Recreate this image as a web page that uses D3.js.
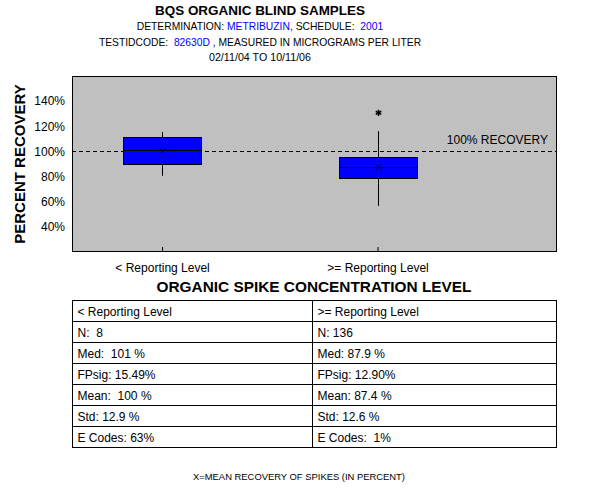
<!DOCTYPE html>
<html>
<head>
<meta charset="utf-8">
<script src="https://cdn.jsdelivr.net/npm/d3@7"></script>
<style>
  html, body { margin: 0; padding: 0; background: #fff; }
  svg text { font-family: "Liberation Sans", Arial, sans-serif; white-space: pre; }
</style>
</head>
<body>
<div id="chart"></div>
<script>
// ---- Data ----
const categories = ["< Reporting Level", ">= Reporting Level"];
const whiskerLow  = [80.6, 56.7];
const q1          = [90.1, 78.5];
const medians     = [101, 87.9];
const q3          = [111.1, 95.2];
const whiskerHigh = [115.4, 116.1];
const means       = [100, 87.4];
const outliers    = [[], [130.7]];
const yTicks      = [40, 60, 80, 100, 120, 140];
const yDomain     = [20, 160];

const nValues     = ["N:  8", "N: 136"];
const medText     = ["Med:  101 %", "Med: 87.9 %"];
const fpsigText   = ["FPsig: 15.49%", "FPsig: 12.90%"];
const meanText    = ["Mean:  100 %", "Mean: 87.4 %"];
const stdText     = ["Std: 12.9 %", "Std: 12.6 %"];
const eCodesText  = ["E Codes: 63%", "E Codes:  1%"];

// ---- Layout ----
const W = 600, H = 500;
const plot = { left: 72, right: 557, top: 76, bottom: 252 };
const svg = d3.select("#chart").append("svg").attr("width", W).attr("height", H);
const px = v => Math.round(v) + 0.5;

// Titles
const cx = 260;
svg.append("text").attr("x", cx).attr("y", 15).attr("text-anchor", "middle")
  .attr("font-size", 13).attr("font-weight", "bold")
  .attr("textLength", 210).attr("lengthAdjust", "spacingAndGlyphs")
  .text("BQS ORGANIC BLIND SAMPLES");
const t2 = svg.append("text").attr("x", cx).attr("y", 30).attr("text-anchor", "middle").attr("font-size", 10.3);
t2.append("tspan").text("DETERMINATION: ");
t2.append("tspan").attr("fill", "#0000ff").text("METRIBUZIN,");
t2.append("tspan").text(" SCHEDULE:  ");
t2.append("tspan").attr("fill", "#0000ff").text("2001");
const t3 = svg.append("text").attr("x", cx).attr("y", 46).attr("text-anchor", "middle").attr("font-size", 10.3);
t3.append("tspan").text("TESTIDCODE:  ");
t3.append("tspan").attr("fill", "#0000ff").text("82630D");
t3.append("tspan").text(" , MEASURED IN MICROGRAMS PER LITER");
svg.append("text").attr("x", cx).attr("y", 61).attr("text-anchor", "middle").attr("font-size", 10.7)
  .text("02/11/04 TO 10/11/06");

// Scales
const y = d3.scaleLinear().domain(yDomain).range([plot.bottom, plot.top]);
const idx = categories.map((d, i) => i);
const x = d3.scaleLinear().domain([-0.418, 1.833]).range([plot.left, plot.right]);

// Plot background
svg.append("rect").attr("x", plot.left).attr("y", plot.top)
  .attr("width", plot.right - plot.left).attr("height", plot.bottom - plot.top)
  .attr("fill", "#c0c0c0").attr("stroke", "none");

// Y axis labels (no tick lines)
const yAxis = d3.axisLeft(y).tickValues(yTicks).tickSize(0).tickPadding(7).tickFormat(d => d + "%");
const yg = svg.append("g").attr("transform", `translate(${plot.left},0)`).call(yAxis);
yg.select(".domain").remove();
yg.selectAll("text").attr("font-size", 12).attr("font-family", "Liberation Sans, Arial, sans-serif").attr("fill", "#000");

// X axis: inward ticks + labels
const xAxis = d3.axisBottom(x).tickValues(idx).tickSize(-5).tickPadding(11).tickFormat(i => categories[i]);
const xg = svg.append("g").attr("transform", `translate(0,${plot.bottom})`).call(xAxis);
xg.select(".domain").remove();
xg.selectAll("line").attr("stroke", "#000");
xg.selectAll("text").attr("font-size", 12).attr("font-family", "Liberation Sans, Arial, sans-serif").attr("fill", "#000");

// 100% reference line
svg.append("line").attr("x1", plot.left).attr("x2", plot.right)
  .attr("y1", px(y(100))).attr("y2", px(y(100)))
  .attr("stroke", "#000").attr("stroke-dasharray", "4,3");
svg.append("text").attr("x", plot.right - 9).attr("y", y(100) - 7).attr("text-anchor", "end")
  .attr("font-size", 12).text("100% RECOVERY");

// Boxes
const boxW = 78;
const g = svg.append("g");
idx.forEach(i => {
  const xc = px(x(i));
  g.append("line").attr("x1", xc).attr("x2", xc)
    .attr("y1", y(whiskerLow[i])).attr("y2", y(whiskerHigh[i])).attr("stroke", "#000");
  const yt = px(y(q3[i])), yb = px(y(q1[i]));
  g.append("rect").attr("x", xc - boxW / 2).attr("y", yt)
    .attr("width", boxW).attr("height", yb - yt)
    .attr("fill", "#0000ff").attr("stroke", "#000");
  g.append("line").attr("x1", xc - boxW / 2).attr("x2", xc + boxW / 2)
    .attr("y1", px(y(medians[i]))).attr("y2", px(y(medians[i]))).attr("stroke", "#000");
  g.append("path").attr("d", d3.symbol(d3.symbolX, 22)())
    .attr("transform", `translate(${xc},${y(means[i])})`)
    .attr("fill", "none").attr("stroke", "#000");
  outliers[i].forEach(v => {
    g.append("path").attr("d", d3.symbol(d3.symbolAsterisk, 28)())
      .attr("transform", `translate(${xc},${y(v)})`)
      .attr("fill", "none").attr("stroke", "#000").attr("stroke-width", 1.5);
  });
});

// Plot border
svg.append("rect").attr("x", plot.left + 0.5).attr("y", plot.top + 0.5)
  .attr("width", plot.right - plot.left - 1).attr("height", plot.bottom - plot.top - 1)
  .attr("fill", "none").attr("stroke", "#000");

// Y axis title
svg.append("text").attr("transform", `translate(25,${(plot.top + plot.bottom) / 2}) rotate(-90)`)
  .attr("text-anchor", "middle").attr("font-size", 15).attr("font-weight", "bold")
  .text("PERCENT RECOVERY");

// Table title
svg.append("text").attr("x", 314).attr("y", 292).attr("text-anchor", "middle")
  .attr("font-size", 15).attr("font-weight", "bold")
  .attr("textLength", 315).attr("lengthAdjust", "spacingAndGlyphs")
  .text("ORGANIC SPIKE CONCENTRATION LEVEL");

// Table
const rows = [categories, nValues, medText, fpsigText, meanText, stdText, eCodesText];
const tbl = { left: 72.5, right: 556.5, top: 300.5, rowH: 21, mid: 312.5 };
const tg = svg.append("g");
const tBottom = tbl.top + rows.length * tbl.rowH;
tg.append("rect").attr("x", tbl.left).attr("y", tbl.top).attr("width", tbl.right - tbl.left)
  .attr("height", tBottom - tbl.top).attr("fill", "none").attr("stroke", "#000");
tg.append("line").attr("x1", tbl.mid).attr("x2", tbl.mid).attr("y1", tbl.top).attr("y2", tBottom).attr("stroke", "#000");
rows.forEach((r, ri) => {
  if (ri > 0) {
    tg.append("line").attr("x1", tbl.left).attr("x2", tbl.right)
      .attr("y1", tbl.top + ri * tbl.rowH).attr("y2", tbl.top + ri * tbl.rowH).attr("stroke", "#000");
  }
  r.forEach((txt, ci) => {
    tg.append("text").attr("x", (ci === 0 ? tbl.left : tbl.mid) + 5)
      .attr("y", tbl.top + ri * tbl.rowH + 15).attr("font-size", 12).text(txt);
  });
});

// Footer
svg.append("text").attr("x", 299).attr("y", 480).attr("text-anchor", "middle")
  .attr("font-size", 9).attr("textLength", 212).attr("lengthAdjust", "spacingAndGlyphs")
  .text("X=MEAN RECOVERY OF SPIKES (IN PERCENT)");
</script>
</body>
</html>
